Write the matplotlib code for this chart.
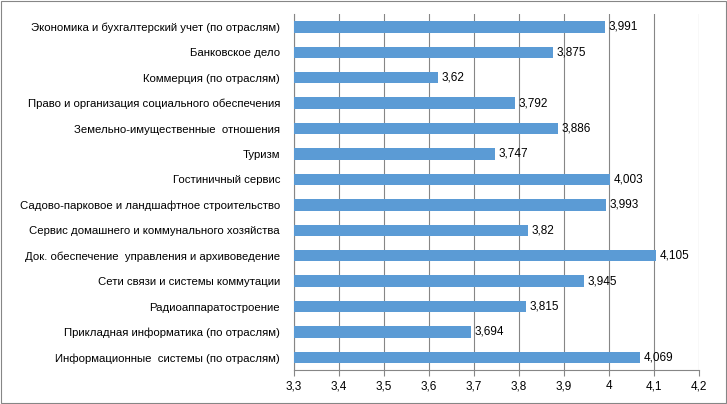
import numpy as np
import matplotlib.pyplot as plt

plt.rcParams['font.family'] = 'Liberation Sans'

categories = [
    'Экономика и бухгалтерский учет (по отраслям)',
    'Банковское дело',
    'Коммерция (по отраслям)',
    'Право и организация социального обеспечения',
    'Земельно-имущественные  отношения',
    'Туризм',
    'Гостиничный сервис',
    'Садово-парковое и ландшафтное строительство',
    'Сервис домашнего и коммунального хозяйства',
    'Док. обеспечение  управления и архивоведение',
    'Сети связи и системы коммутации',
    'Радиоаппаратостроение',
    'Прикладная информатика (по отраслям)',
    'Информационные  системы (по отраслям)',
]
values = [3.991, 3.875, 3.62, 3.792, 3.886, 3.747, 4.003, 3.993, 3.82, 4.105, 3.945, 3.815, 3.694, 4.069]
value_labels = ['3,991', '3,875', '3,62', '3,792', '3,886', '3,747', '4,003', '3,993', '3,82', '4,105', '3,945', '3,815', '3,694', '4,069']
x_ticks = [3.3, 3.4, 3.5, 3.6, 3.7, 3.8, 3.9, 4.0, 4.1, 4.2]
x_tick_labels = ['3,3', '3,4', '3,5', '3,6', '3,7', '3,8', '3,9', '4', '4,1', '4,2']

fig = plt.figure(figsize=(7.27, 4.04), dpi=100)
ax = fig.add_axes([0.4044, 0.084, 0.557, 0.881])

y = np.arange(len(categories))
base = 3.3
ax.barh(y, np.array(values) - base, left=base, height=0.45, color='#5B9BD5', zorder=3)
for yi, v, lab in zip(y, values, value_labels):
    ax.text(v + 0.008, yi, lab, va='center', ha='left', fontsize=8.5, zorder=4)

ax.set_xlim(3.3, 4.2)
ax.set_ylim(len(categories) - 0.5, -0.5)
ax.set_yticks(y)
ax.set_yticklabels(categories, fontsize=8.2)
ax.set_xticks(x_ticks)
ax.set_xticklabels(x_tick_labels, fontsize=8.5)
ax.xaxis.grid(True, color='#868686', linewidth=0.8, zorder=0)
ax.tick_params(axis='y', length=0, pad=10)
ax.tick_params(axis='x', length=4, color='#868686', direction='out')
for s in ['top', 'right', 'bottom']:
    ax.spines[s].set_visible(False)
ax.spines['left'].set_color('#868686')
ax.spines['bottom'].set_visible(True)
ax.spines['bottom'].set_color('#868686')

fig.patches.append(plt.Rectangle((0.001, 0.002), 0.997, 0.995, transform=fig.transFigure,
                                 fill=False, edgecolor='#868686', linewidth=0.8))
fig.savefig('out.png', dpi=100)
